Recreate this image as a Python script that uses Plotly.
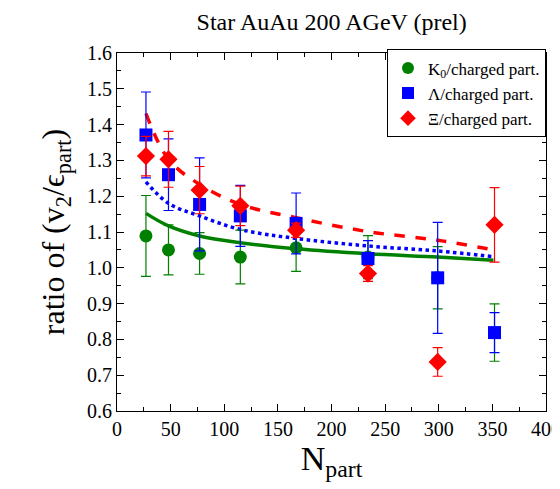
import plotly.graph_objects as go

# N_part positions of the measured points
npart = [27, 48, 77, 115, 167, 234, 299, 352]

# K0 / charged
k0_ratio = [1.089, 1.050, 1.040, 1.030, 1.056, 1.030, 0.972, 0.819]
k0_err = [0.113, 0.070, 0.058, 0.075, 0.066, 0.060, 0.087, 0.080]

# Lambda / charged
lam_ratio = [1.371, 1.260, 1.177, 1.145, 1.124, 1.026, 0.972, 0.819]
lam_err = [0.120, 0.100, 0.130, 0.085, 0.085, 0.050, 0.155, 0.056]

# Xi / charged
xi_ratio = [1.312, 1.303, 1.217, 1.173, 1.105, 0.984, 0.737, 1.120]
xi_err = [0.055, 0.078, 0.066, 0.055, 0.020, 0.022, 0.040, 0.104]

# model curves read at the same N_part
curve_x = [27, 48, 77, 115, 167, 234, 299, 351]
curve_k0 = [1.152, 1.117, 1.089, 1.070, 1.053, 1.039, 1.030, 1.021]
curve_lam = [1.240, 1.180, 1.145, 1.107, 1.082, 1.061, 1.047, 1.031]
curve_xi = [1.431, 1.303, 1.233, 1.177, 1.140, 1.101, 1.077, 1.050]

GREEN = "#008000"
BLUE = "#0000ff"
RED = "#ff0000"
SERIF = "Liberation Serif"

fig = go.Figure()

fig.add_trace(go.Scatter(x=curve_x, y=curve_k0, mode="lines", line_shape="spline",
                         line=dict(color=GREEN, width=3.5), showlegend=False))
fig.add_trace(go.Scatter(x=curve_x, y=curve_lam, mode="lines", line_shape="spline",
                         line=dict(color=BLUE, width=3.5, dash="dot"), showlegend=False))
fig.add_trace(go.Scatter(x=curve_x, y=curve_xi, mode="lines", line_shape="spline",
                         line=dict(color=RED, width=3.5, dash="dash"), showlegend=False))

fig.add_trace(go.Scatter(x=npart, y=k0_ratio, mode="markers", name="K<sub>0</sub>/charged part.",
                         marker=dict(symbol="circle", size=13, color=GREEN),
                         error_y=dict(type="data", array=k0_err, color=GREEN, thickness=1.2, width=5)))
fig.add_trace(go.Scatter(x=npart, y=lam_ratio, mode="markers", name="Λ/charged part.",
                         marker=dict(symbol="square", size=13, color=BLUE),
                         error_y=dict(type="data", array=lam_err, color=BLUE, thickness=1.2, width=5)))
fig.add_trace(go.Scatter(x=npart, y=xi_ratio, mode="markers", name="Ξ/charged part.",
                         marker=dict(symbol="diamond", size=14, color=RED),
                         error_y=dict(type="data", array=xi_err, color=RED, thickness=1.2, width=5)))

axis_common = dict(showgrid=False, zeroline=False, showline=True, linecolor="black",
                   linewidth=1, mirror="ticks", ticks="inside", tickcolor="black",
                   ticklen=7, automargin=False,
                   tickfont=dict(family=SERIF, size=20, color="black"))

fig.update_xaxes(range=[0, 400], dtick=50, tick0=0,
                 minor=dict(ticks="inside", dtick=25, ticklen=4, tickcolor="black"),
                 title=dict(text="N<sub>part</sub>", font=dict(family=SERIF, size=34, color="black"),
                            standoff=6),
                 **axis_common)
fig.update_yaxes(range=[0.6, 1.6], dtick=0.1, tick0=0.6, tickformat=".1f",
                 minor=dict(ticks="inside", dtick=0.05, ticklen=4, tickcolor="black"),
                 title=dict(text="ratio of (v<sub>2</sub>/ϵ<sub>part</sub>)",
                            font=dict(family=SERIF, size=32, color="black"), standoff=12),
                 **axis_common)

fig.update_layout(
    width=560, height=489,
    margin=dict(l=109, r=22, t=45, b=86),
    font=dict(family=SERIF, color="black"),
    plot_bgcolor="white", paper_bgcolor="white",
    title=dict(text="Star AuAu 200 AGeV (prel)", x=0.578, xanchor="center", y=0.99, yanchor="top",
               font=dict(family=SERIF, size=24, color="black")),
    legend=dict(x=1.0, xanchor="right", y=1.01, yanchor="top", bgcolor="white",
                bordercolor="black", borderwidth=1,
                font=dict(family=SERIF, size=17, color="black"),
                itemsizing="constant", tracegroupgap=0),
)

fig.write_html("out.html")
